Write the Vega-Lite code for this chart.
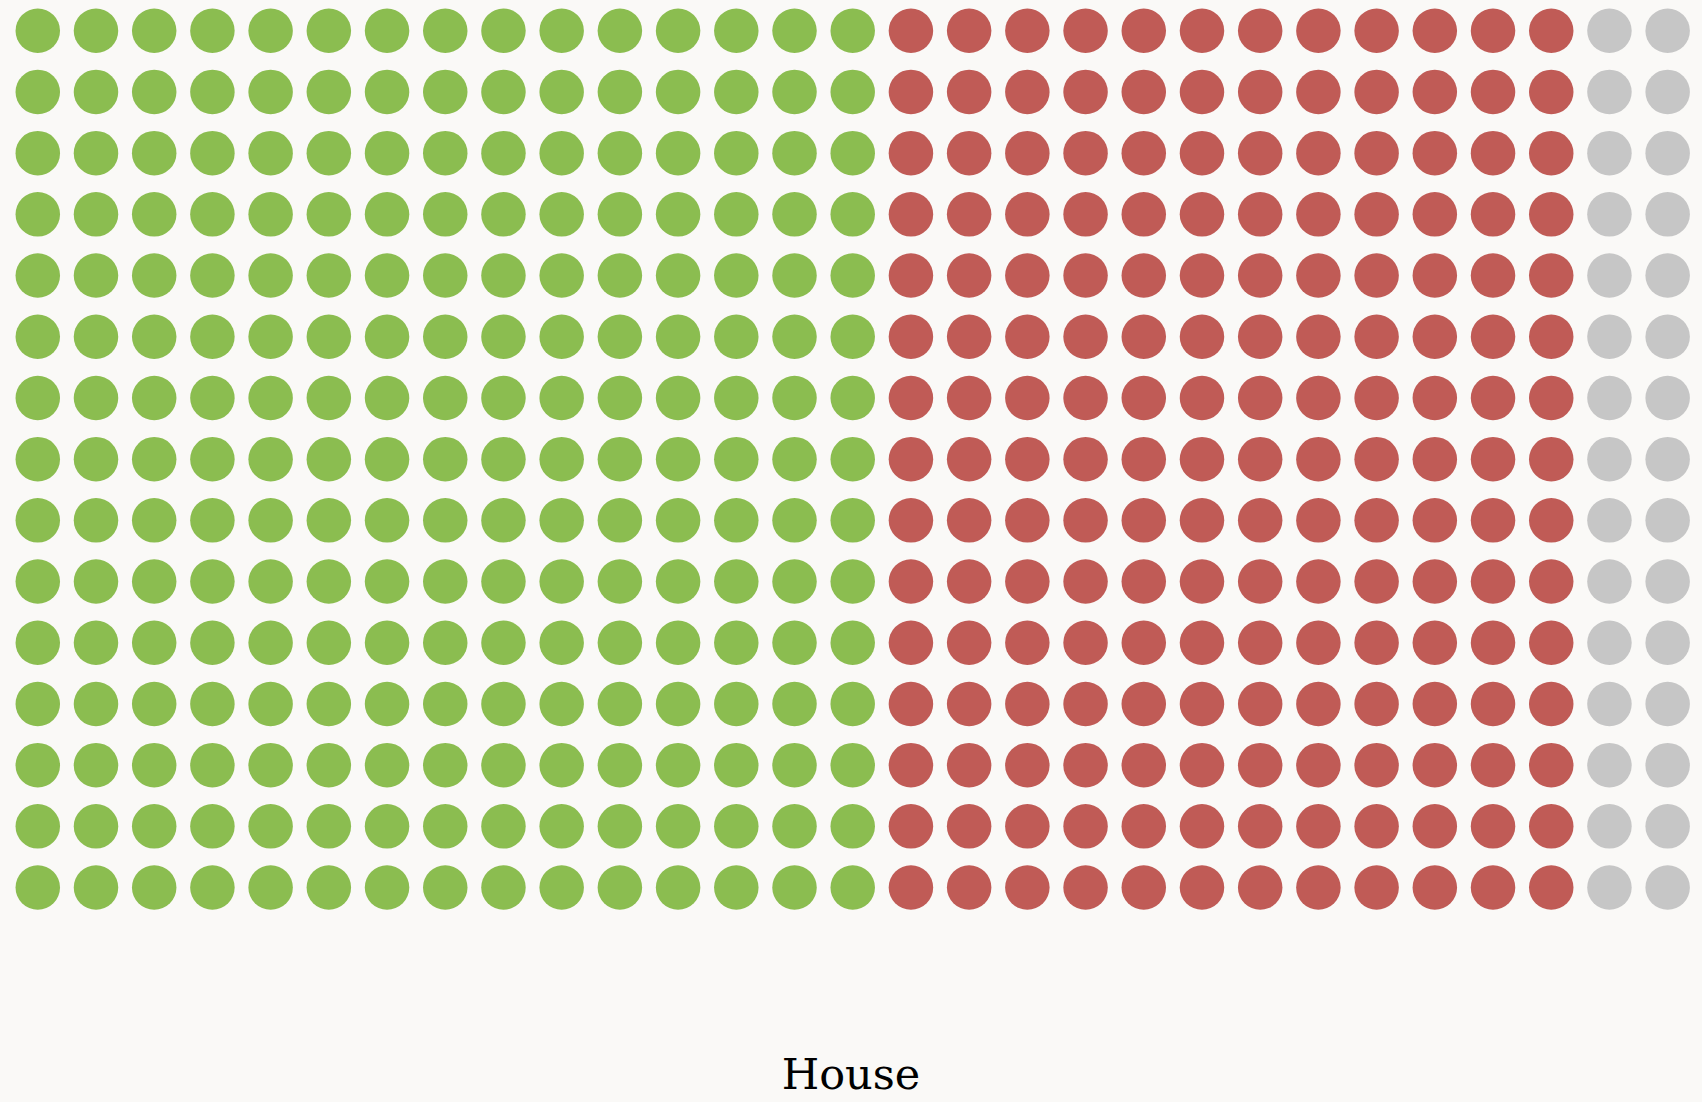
{
  "$schema": "https://vega.github.io/schema/vega-lite/v6.json",
  "width": 1702,
  "height": 920,
  "autosize": {"type": "none"},
  "padding": {"top": 0, "left": 0, "right": 0, "bottom": 182},
  "background": "#faf9f7",
  "config": {"view": {"stroke": null}},
  "title": {
    "text": "House",
    "orient": "bottom",
    "anchor": "middle",
    "font": "DejaVu Serif",
    "fontSize": 43,
    "fontWeight": "normal",
    "color": "#000000",
    "baseline": "alphabetic",
    "offset": 169
  },
  "data": {"values": [
    {"c":0,"r":0,"p":"g"},{"c":0,"r":1,"p":"g"},{"c":0,"r":2,"p":"g"},{"c":0,"r":3,"p":"g"},{"c":0,"r":4,"p":"g"},{"c":0,"r":5,"p":"g"},{"c":0,"r":6,"p":"g"},{"c":0,"r":7,"p":"g"},{"c":0,"r":8,"p":"g"},{"c":0,"r":9,"p":"g"},{"c":0,"r":10,"p":"g"},{"c":0,"r":11,"p":"g"},{"c":0,"r":12,"p":"g"},{"c":0,"r":13,"p":"g"},{"c":0,"r":14,"p":"g"},
    {"c":1,"r":0,"p":"g"},{"c":1,"r":1,"p":"g"},{"c":1,"r":2,"p":"g"},{"c":1,"r":3,"p":"g"},{"c":1,"r":4,"p":"g"},{"c":1,"r":5,"p":"g"},{"c":1,"r":6,"p":"g"},{"c":1,"r":7,"p":"g"},{"c":1,"r":8,"p":"g"},{"c":1,"r":9,"p":"g"},{"c":1,"r":10,"p":"g"},{"c":1,"r":11,"p":"g"},{"c":1,"r":12,"p":"g"},{"c":1,"r":13,"p":"g"},{"c":1,"r":14,"p":"g"},
    {"c":2,"r":0,"p":"g"},{"c":2,"r":1,"p":"g"},{"c":2,"r":2,"p":"g"},{"c":2,"r":3,"p":"g"},{"c":2,"r":4,"p":"g"},{"c":2,"r":5,"p":"g"},{"c":2,"r":6,"p":"g"},{"c":2,"r":7,"p":"g"},{"c":2,"r":8,"p":"g"},{"c":2,"r":9,"p":"g"},{"c":2,"r":10,"p":"g"},{"c":2,"r":11,"p":"g"},{"c":2,"r":12,"p":"g"},{"c":2,"r":13,"p":"g"},{"c":2,"r":14,"p":"g"},
    {"c":3,"r":0,"p":"g"},{"c":3,"r":1,"p":"g"},{"c":3,"r":2,"p":"g"},{"c":3,"r":3,"p":"g"},{"c":3,"r":4,"p":"g"},{"c":3,"r":5,"p":"g"},{"c":3,"r":6,"p":"g"},{"c":3,"r":7,"p":"g"},{"c":3,"r":8,"p":"g"},{"c":3,"r":9,"p":"g"},{"c":3,"r":10,"p":"g"},{"c":3,"r":11,"p":"g"},{"c":3,"r":12,"p":"g"},{"c":3,"r":13,"p":"g"},{"c":3,"r":14,"p":"g"},
    {"c":4,"r":0,"p":"g"},{"c":4,"r":1,"p":"g"},{"c":4,"r":2,"p":"g"},{"c":4,"r":3,"p":"g"},{"c":4,"r":4,"p":"g"},{"c":4,"r":5,"p":"g"},{"c":4,"r":6,"p":"g"},{"c":4,"r":7,"p":"g"},{"c":4,"r":8,"p":"g"},{"c":4,"r":9,"p":"g"},{"c":4,"r":10,"p":"g"},{"c":4,"r":11,"p":"g"},{"c":4,"r":12,"p":"g"},{"c":4,"r":13,"p":"g"},{"c":4,"r":14,"p":"g"},
    {"c":5,"r":0,"p":"g"},{"c":5,"r":1,"p":"g"},{"c":5,"r":2,"p":"g"},{"c":5,"r":3,"p":"g"},{"c":5,"r":4,"p":"g"},{"c":5,"r":5,"p":"g"},{"c":5,"r":6,"p":"g"},{"c":5,"r":7,"p":"g"},{"c":5,"r":8,"p":"g"},{"c":5,"r":9,"p":"g"},{"c":5,"r":10,"p":"g"},{"c":5,"r":11,"p":"g"},{"c":5,"r":12,"p":"g"},{"c":5,"r":13,"p":"g"},{"c":5,"r":14,"p":"g"},
    {"c":6,"r":0,"p":"g"},{"c":6,"r":1,"p":"g"},{"c":6,"r":2,"p":"g"},{"c":6,"r":3,"p":"g"},{"c":6,"r":4,"p":"g"},{"c":6,"r":5,"p":"g"},{"c":6,"r":6,"p":"g"},{"c":6,"r":7,"p":"g"},{"c":6,"r":8,"p":"g"},{"c":6,"r":9,"p":"g"},{"c":6,"r":10,"p":"g"},{"c":6,"r":11,"p":"g"},{"c":6,"r":12,"p":"g"},{"c":6,"r":13,"p":"g"},{"c":6,"r":14,"p":"g"},
    {"c":7,"r":0,"p":"g"},{"c":7,"r":1,"p":"g"},{"c":7,"r":2,"p":"g"},{"c":7,"r":3,"p":"g"},{"c":7,"r":4,"p":"g"},{"c":7,"r":5,"p":"g"},{"c":7,"r":6,"p":"g"},{"c":7,"r":7,"p":"g"},{"c":7,"r":8,"p":"g"},{"c":7,"r":9,"p":"g"},{"c":7,"r":10,"p":"g"},{"c":7,"r":11,"p":"g"},{"c":7,"r":12,"p":"g"},{"c":7,"r":13,"p":"g"},{"c":7,"r":14,"p":"g"},
    {"c":8,"r":0,"p":"g"},{"c":8,"r":1,"p":"g"},{"c":8,"r":2,"p":"g"},{"c":8,"r":3,"p":"g"},{"c":8,"r":4,"p":"g"},{"c":8,"r":5,"p":"g"},{"c":8,"r":6,"p":"g"},{"c":8,"r":7,"p":"g"},{"c":8,"r":8,"p":"g"},{"c":8,"r":9,"p":"g"},{"c":8,"r":10,"p":"g"},{"c":8,"r":11,"p":"g"},{"c":8,"r":12,"p":"g"},{"c":8,"r":13,"p":"g"},{"c":8,"r":14,"p":"g"},
    {"c":9,"r":0,"p":"g"},{"c":9,"r":1,"p":"g"},{"c":9,"r":2,"p":"g"},{"c":9,"r":3,"p":"g"},{"c":9,"r":4,"p":"g"},{"c":9,"r":5,"p":"g"},{"c":9,"r":6,"p":"g"},{"c":9,"r":7,"p":"g"},{"c":9,"r":8,"p":"g"},{"c":9,"r":9,"p":"g"},{"c":9,"r":10,"p":"g"},{"c":9,"r":11,"p":"g"},{"c":9,"r":12,"p":"g"},{"c":9,"r":13,"p":"g"},{"c":9,"r":14,"p":"g"},
    {"c":10,"r":0,"p":"g"},{"c":10,"r":1,"p":"g"},{"c":10,"r":2,"p":"g"},{"c":10,"r":3,"p":"g"},{"c":10,"r":4,"p":"g"},{"c":10,"r":5,"p":"g"},{"c":10,"r":6,"p":"g"},{"c":10,"r":7,"p":"g"},{"c":10,"r":8,"p":"g"},{"c":10,"r":9,"p":"g"},{"c":10,"r":10,"p":"g"},{"c":10,"r":11,"p":"g"},{"c":10,"r":12,"p":"g"},{"c":10,"r":13,"p":"g"},{"c":10,"r":14,"p":"g"},
    {"c":11,"r":0,"p":"g"},{"c":11,"r":1,"p":"g"},{"c":11,"r":2,"p":"g"},{"c":11,"r":3,"p":"g"},{"c":11,"r":4,"p":"g"},{"c":11,"r":5,"p":"g"},{"c":11,"r":6,"p":"g"},{"c":11,"r":7,"p":"g"},{"c":11,"r":8,"p":"g"},{"c":11,"r":9,"p":"g"},{"c":11,"r":10,"p":"g"},{"c":11,"r":11,"p":"g"},{"c":11,"r":12,"p":"g"},{"c":11,"r":13,"p":"g"},{"c":11,"r":14,"p":"g"},
    {"c":12,"r":0,"p":"g"},{"c":12,"r":1,"p":"g"},{"c":12,"r":2,"p":"g"},{"c":12,"r":3,"p":"g"},{"c":12,"r":4,"p":"g"},{"c":12,"r":5,"p":"g"},{"c":12,"r":6,"p":"g"},{"c":12,"r":7,"p":"g"},{"c":12,"r":8,"p":"g"},{"c":12,"r":9,"p":"g"},{"c":12,"r":10,"p":"g"},{"c":12,"r":11,"p":"g"},{"c":12,"r":12,"p":"g"},{"c":12,"r":13,"p":"g"},{"c":12,"r":14,"p":"g"},
    {"c":13,"r":0,"p":"g"},{"c":13,"r":1,"p":"g"},{"c":13,"r":2,"p":"g"},{"c":13,"r":3,"p":"g"},{"c":13,"r":4,"p":"g"},{"c":13,"r":5,"p":"g"},{"c":13,"r":6,"p":"g"},{"c":13,"r":7,"p":"g"},{"c":13,"r":8,"p":"g"},{"c":13,"r":9,"p":"g"},{"c":13,"r":10,"p":"g"},{"c":13,"r":11,"p":"g"},{"c":13,"r":12,"p":"g"},{"c":13,"r":13,"p":"g"},{"c":13,"r":14,"p":"g"},
    {"c":14,"r":0,"p":"g"},{"c":14,"r":1,"p":"g"},{"c":14,"r":2,"p":"g"},{"c":14,"r":3,"p":"g"},{"c":14,"r":4,"p":"g"},{"c":14,"r":5,"p":"g"},{"c":14,"r":6,"p":"g"},{"c":14,"r":7,"p":"g"},{"c":14,"r":8,"p":"g"},{"c":14,"r":9,"p":"g"},{"c":14,"r":10,"p":"g"},{"c":14,"r":11,"p":"g"},{"c":14,"r":12,"p":"g"},{"c":14,"r":13,"p":"g"},{"c":14,"r":14,"p":"g"},
    {"c":15,"r":0,"p":"r"},{"c":15,"r":1,"p":"r"},{"c":15,"r":2,"p":"r"},{"c":15,"r":3,"p":"r"},{"c":15,"r":4,"p":"r"},{"c":15,"r":5,"p":"r"},{"c":15,"r":6,"p":"r"},{"c":15,"r":7,"p":"r"},{"c":15,"r":8,"p":"r"},{"c":15,"r":9,"p":"r"},{"c":15,"r":10,"p":"r"},{"c":15,"r":11,"p":"r"},{"c":15,"r":12,"p":"r"},{"c":15,"r":13,"p":"r"},{"c":15,"r":14,"p":"r"},
    {"c":16,"r":0,"p":"r"},{"c":16,"r":1,"p":"r"},{"c":16,"r":2,"p":"r"},{"c":16,"r":3,"p":"r"},{"c":16,"r":4,"p":"r"},{"c":16,"r":5,"p":"r"},{"c":16,"r":6,"p":"r"},{"c":16,"r":7,"p":"r"},{"c":16,"r":8,"p":"r"},{"c":16,"r":9,"p":"r"},{"c":16,"r":10,"p":"r"},{"c":16,"r":11,"p":"r"},{"c":16,"r":12,"p":"r"},{"c":16,"r":13,"p":"r"},{"c":16,"r":14,"p":"r"},
    {"c":17,"r":0,"p":"r"},{"c":17,"r":1,"p":"r"},{"c":17,"r":2,"p":"r"},{"c":17,"r":3,"p":"r"},{"c":17,"r":4,"p":"r"},{"c":17,"r":5,"p":"r"},{"c":17,"r":6,"p":"r"},{"c":17,"r":7,"p":"r"},{"c":17,"r":8,"p":"r"},{"c":17,"r":9,"p":"r"},{"c":17,"r":10,"p":"r"},{"c":17,"r":11,"p":"r"},{"c":17,"r":12,"p":"r"},{"c":17,"r":13,"p":"r"},{"c":17,"r":14,"p":"r"},
    {"c":18,"r":0,"p":"r"},{"c":18,"r":1,"p":"r"},{"c":18,"r":2,"p":"r"},{"c":18,"r":3,"p":"r"},{"c":18,"r":4,"p":"r"},{"c":18,"r":5,"p":"r"},{"c":18,"r":6,"p":"r"},{"c":18,"r":7,"p":"r"},{"c":18,"r":8,"p":"r"},{"c":18,"r":9,"p":"r"},{"c":18,"r":10,"p":"r"},{"c":18,"r":11,"p":"r"},{"c":18,"r":12,"p":"r"},{"c":18,"r":13,"p":"r"},{"c":18,"r":14,"p":"r"},
    {"c":19,"r":0,"p":"r"},{"c":19,"r":1,"p":"r"},{"c":19,"r":2,"p":"r"},{"c":19,"r":3,"p":"r"},{"c":19,"r":4,"p":"r"},{"c":19,"r":5,"p":"r"},{"c":19,"r":6,"p":"r"},{"c":19,"r":7,"p":"r"},{"c":19,"r":8,"p":"r"},{"c":19,"r":9,"p":"r"},{"c":19,"r":10,"p":"r"},{"c":19,"r":11,"p":"r"},{"c":19,"r":12,"p":"r"},{"c":19,"r":13,"p":"r"},{"c":19,"r":14,"p":"r"},
    {"c":20,"r":0,"p":"r"},{"c":20,"r":1,"p":"r"},{"c":20,"r":2,"p":"r"},{"c":20,"r":3,"p":"r"},{"c":20,"r":4,"p":"r"},{"c":20,"r":5,"p":"r"},{"c":20,"r":6,"p":"r"},{"c":20,"r":7,"p":"r"},{"c":20,"r":8,"p":"r"},{"c":20,"r":9,"p":"r"},{"c":20,"r":10,"p":"r"},{"c":20,"r":11,"p":"r"},{"c":20,"r":12,"p":"r"},{"c":20,"r":13,"p":"r"},{"c":20,"r":14,"p":"r"},
    {"c":21,"r":0,"p":"r"},{"c":21,"r":1,"p":"r"},{"c":21,"r":2,"p":"r"},{"c":21,"r":3,"p":"r"},{"c":21,"r":4,"p":"r"},{"c":21,"r":5,"p":"r"},{"c":21,"r":6,"p":"r"},{"c":21,"r":7,"p":"r"},{"c":21,"r":8,"p":"r"},{"c":21,"r":9,"p":"r"},{"c":21,"r":10,"p":"r"},{"c":21,"r":11,"p":"r"},{"c":21,"r":12,"p":"r"},{"c":21,"r":13,"p":"r"},{"c":21,"r":14,"p":"r"},
    {"c":22,"r":0,"p":"r"},{"c":22,"r":1,"p":"r"},{"c":22,"r":2,"p":"r"},{"c":22,"r":3,"p":"r"},{"c":22,"r":4,"p":"r"},{"c":22,"r":5,"p":"r"},{"c":22,"r":6,"p":"r"},{"c":22,"r":7,"p":"r"},{"c":22,"r":8,"p":"r"},{"c":22,"r":9,"p":"r"},{"c":22,"r":10,"p":"r"},{"c":22,"r":11,"p":"r"},{"c":22,"r":12,"p":"r"},{"c":22,"r":13,"p":"r"},{"c":22,"r":14,"p":"r"},
    {"c":23,"r":0,"p":"r"},{"c":23,"r":1,"p":"r"},{"c":23,"r":2,"p":"r"},{"c":23,"r":3,"p":"r"},{"c":23,"r":4,"p":"r"},{"c":23,"r":5,"p":"r"},{"c":23,"r":6,"p":"r"},{"c":23,"r":7,"p":"r"},{"c":23,"r":8,"p":"r"},{"c":23,"r":9,"p":"r"},{"c":23,"r":10,"p":"r"},{"c":23,"r":11,"p":"r"},{"c":23,"r":12,"p":"r"},{"c":23,"r":13,"p":"r"},{"c":23,"r":14,"p":"r"},
    {"c":24,"r":0,"p":"r"},{"c":24,"r":1,"p":"r"},{"c":24,"r":2,"p":"r"},{"c":24,"r":3,"p":"r"},{"c":24,"r":4,"p":"r"},{"c":24,"r":5,"p":"r"},{"c":24,"r":6,"p":"r"},{"c":24,"r":7,"p":"r"},{"c":24,"r":8,"p":"r"},{"c":24,"r":9,"p":"r"},{"c":24,"r":10,"p":"r"},{"c":24,"r":11,"p":"r"},{"c":24,"r":12,"p":"r"},{"c":24,"r":13,"p":"r"},{"c":24,"r":14,"p":"r"},
    {"c":25,"r":0,"p":"r"},{"c":25,"r":1,"p":"r"},{"c":25,"r":2,"p":"r"},{"c":25,"r":3,"p":"r"},{"c":25,"r":4,"p":"r"},{"c":25,"r":5,"p":"r"},{"c":25,"r":6,"p":"r"},{"c":25,"r":7,"p":"r"},{"c":25,"r":8,"p":"r"},{"c":25,"r":9,"p":"r"},{"c":25,"r":10,"p":"r"},{"c":25,"r":11,"p":"r"},{"c":25,"r":12,"p":"r"},{"c":25,"r":13,"p":"r"},{"c":25,"r":14,"p":"r"},
    {"c":26,"r":0,"p":"r"},{"c":26,"r":1,"p":"r"},{"c":26,"r":2,"p":"r"},{"c":26,"r":3,"p":"r"},{"c":26,"r":4,"p":"r"},{"c":26,"r":5,"p":"r"},{"c":26,"r":6,"p":"r"},{"c":26,"r":7,"p":"r"},{"c":26,"r":8,"p":"r"},{"c":26,"r":9,"p":"r"},{"c":26,"r":10,"p":"r"},{"c":26,"r":11,"p":"r"},{"c":26,"r":12,"p":"r"},{"c":26,"r":13,"p":"r"},{"c":26,"r":14,"p":"r"},
    {"c":27,"r":0,"p":"o"},{"c":27,"r":1,"p":"o"},{"c":27,"r":2,"p":"o"},{"c":27,"r":3,"p":"o"},{"c":27,"r":4,"p":"o"},{"c":27,"r":5,"p":"o"},{"c":27,"r":6,"p":"o"},{"c":27,"r":7,"p":"o"},{"c":27,"r":8,"p":"o"},{"c":27,"r":9,"p":"o"},{"c":27,"r":10,"p":"o"},{"c":27,"r":11,"p":"o"},{"c":27,"r":12,"p":"o"},{"c":27,"r":13,"p":"o"},{"c":27,"r":14,"p":"o"},
    {"c":28,"r":0,"p":"o"},{"c":28,"r":1,"p":"o"},{"c":28,"r":2,"p":"o"},{"c":28,"r":3,"p":"o"},{"c":28,"r":4,"p":"o"},{"c":28,"r":5,"p":"o"},{"c":28,"r":6,"p":"o"},{"c":28,"r":7,"p":"o"},{"c":28,"r":8,"p":"o"},{"c":28,"r":9,"p":"o"},{"c":28,"r":10,"p":"o"},{"c":28,"r":11,"p":"o"},{"c":28,"r":12,"p":"o"},{"c":28,"r":13,"p":"o"},{"c":28,"r":14,"p":"o"}
  ]},
  "mark": {"type": "point", "shape": "circle", "filled": true, "opacity": 1, "size": 1980},
  "encoding": {
    "x": {"field": "c", "type": "quantitative", "axis": null, "scale": {"domain": [-0.649, 28.59], "nice": false, "zero": false}},
    "y": {"field": "r", "type": "quantitative", "axis": null, "scale": {"domain": [-0.502, 14.53], "nice": false, "zero": false, "reverse": true}},
    "color": {"field": "p", "type": "nominal", "legend": null, "scale": {"domain": ["g", "r", "o"], "range": ["#8bbd50", "#c05b56", "#c6c6c6"]}}
  }
}
